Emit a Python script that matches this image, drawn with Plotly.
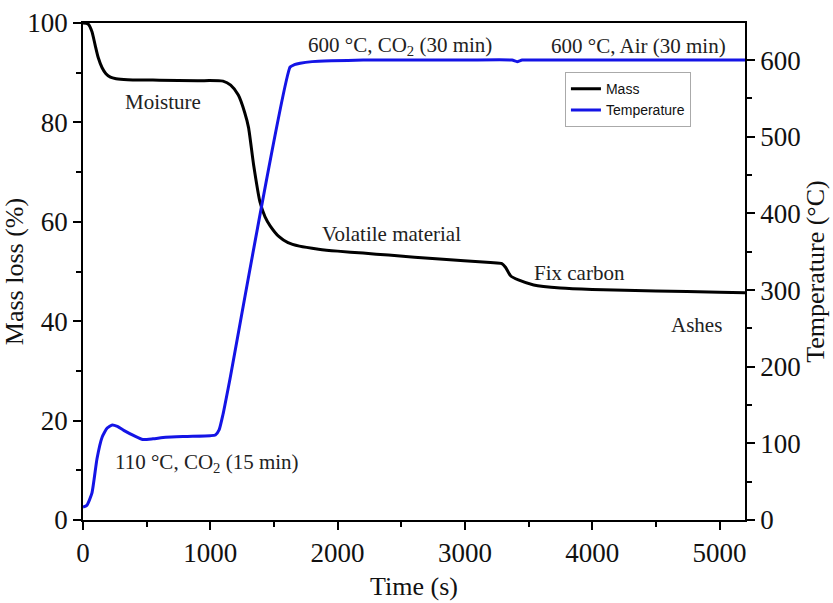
import plotly.graph_objects as go

# Thermogravimetric run: mass loss and furnace temperature vs time
t_mass = [0, 40, 70, 95, 120, 150, 180, 215, 260, 350, 600, 900, 1100, 1160, 1220,
          1270, 1300, 1340, 1390, 1430, 1470, 1540, 1610, 1700, 1850, 2000, 2200,
          2400, 2800, 3200, 3290, 3320, 3360, 3420, 3540, 3750, 4000, 4500, 5000, 5200]
mass = [100, 99.8, 98.3, 95.6, 93.0, 91.0, 89.8, 89.1, 88.8, 88.6, 88.5, 88.4, 88.3, 87.5, 85.5,
        82.0, 79.0, 71.5, 64.0, 61.0, 59.2, 57.0, 55.8, 55.1, 54.5, 54.1, 53.7,
        53.3, 52.5, 51.8, 51.6, 50.8, 49.1, 48.3, 47.3, 46.7, 46.4, 46.1, 45.8, 45.7]

t_temp = [0, 30, 70, 110, 150, 190, 230, 270, 320, 400, 470, 550, 650, 800, 1000, 1040,
          1070, 1100, 1150, 1627, 1660, 1706, 1800, 1950, 2200, 3000, 3370, 3410, 3450, 3600, 4500, 5200]
temp = [17, 19, 35, 80, 108, 120, 124, 122, 117, 110, 105, 106, 108, 109, 110, 111,
        118, 138, 180, 591, 594, 596, 598, 599, 600, 600, 600, 598, 600, 600, 600, 600]

x_ticks = [0, 1000, 2000, 3000, 4000, 5000]
mass_ticks = [0, 20, 40, 60, 80, 100]
temp_ticks = [0, 100, 200, 300, 400, 500, 600]

# Stage labels: (text, time, mass-axis position)
stage_text = ["Moisture", "600 °C, CO<sub>2</sub> (30 min)", "600 °C, Air (30 min)",
              "Volatile material", "Fix carbon", "Ashes", "110 °C, CO<sub>2</sub> (15 min)"]
stage_t = [629, 2492, 4363, 2421, 3899, 4819, 975]
stage_m = [84.1, 95.4, 95.4, 57.6, 49.6, 39.3, 11.4]

SERIF = "Times New Roman, Liberation Serif, serif"

fig = go.Figure()
fig.add_trace(go.Scatter(x=t_mass, y=mass, name="Mass", mode="lines",
                         line=dict(color="black", width=3, shape="spline", smoothing=0.6)))
fig.add_trace(go.Scatter(x=t_temp, y=temp, name="Temperature", mode="lines", yaxis="y2",
                         line=dict(color="#1414e6", width=3, shape="spline", smoothing=0.5)))

for txt, tx, my in zip(stage_text, stage_t, stage_m):
    fig.add_annotation(x=tx, y=my, xref="x", yref="y", text=txt, showarrow=False,
                       font=dict(family=SERIF, size=21, color="#222"))

axis_common = dict(showgrid=False, zeroline=False, showline=True, linecolor="black",
                   linewidth=1.5, ticks="outside", ticklen=8, tickwidth=1.5, tickcolor="black",
                   automargin=False,
                   tickfont=dict(family=SERIF, size=27, color="#111"))

fig.update_layout(
    width=833, height=603,
    margin=dict(l=83, r=88, t=23, b=83),
    paper_bgcolor="white", plot_bgcolor="white",
    xaxis=dict(range=[0, 5200], tickvals=x_ticks, mirror=True,
               minor=dict(dtick=500, ticks="outside", ticklen=5, tickwidth=1.5, tickcolor="black"),
               title=dict(text="Time (s)", font=dict(family=SERIF, size=26, color="#111"), standoff=10),
               **axis_common),
    yaxis=dict(range=[0, 100], tickvals=mass_ticks,
               minor=dict(dtick=10, ticks="outside", ticklen=5, tickwidth=1.5, tickcolor="black"),
               title=dict(text="Mass loss (%)", font=dict(family=SERIF, size=26, color="#111"), standoff=0),
               **axis_common),
    yaxis2=dict(range=[0, 648.4], tickvals=temp_ticks, overlaying="y", side="right",
                minor=dict(dtick=50, ticks="outside", ticklen=5, tickwidth=1.5, tickcolor="black"),
                title=dict(text="Temperature (°C)", font=dict(family=SERIF, size=26, color="#111"), standoff=4),
                **axis_common),
    legend=dict(x=0.728, y=0.901, xanchor="left", yanchor="top",
                bgcolor="white", bordercolor="#aaa", borderwidth=1,
                font=dict(family="Arial, Liberation Sans, sans-serif", size=14, color="#111"),
                tracegroupgap=0, itemwidth=30),
    showlegend=True,
)

fig.write_html("out.html")
